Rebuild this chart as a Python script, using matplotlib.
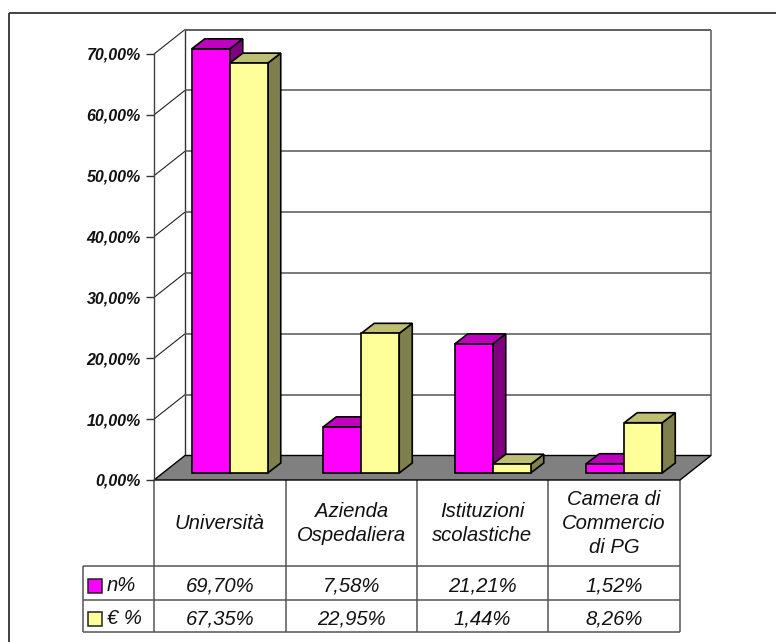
import matplotlib
matplotlib.use('Agg')
from matplotlib import pyplot as plt
from matplotlib.patches import Polygon, Rectangle
from matplotlib.lines import Line2D

W, H = 776, 642

categories = ['Università', 'Azienda\nOspedaliera', 'Istituzioni\nscolastiche', 'Camera di\nCommercio\ndi PG']
series_names = ['n%', '€ %']
n_pct = [69.70, 7.58, 21.21, 1.52]
eur_pct = [67.35, 22.95, 1.44, 8.26]
n_labels = ['69,70%', '7,58%', '21,21%', '1,52%']
eur_labels = ['67,35%', '22,95%', '1,44%', '8,26%']
y_ticks = [0, 10, 20, 30, 40, 50, 60, 70]
y_tick_labels = ['0,00%', '10,00%', '20,00%', '30,00%', '40,00%', '50,00%', '60,00%', '70,00%']

MAGENTA = ('#ff00ff', '#bf00bf', '#800080')
YELLOW = ('#ffff99', '#bfbf73', '#80804d')

plt.rcParams['font.family'] = ['Liberation Sans', 'DejaVu Sans']

fig = plt.figure(figsize=(W / 100, H / 100), dpi=100, facecolor='white')

# overlay in pixel coordinates for the frame and table grid
pix = fig.add_axes([0, 0, 1, 1], zorder=0)
pix.set_xlim(0, W)
pix.set_ylim(H, 0)
pix.axis('off')

LEFT, RIGHT, BASE, TOP = 154, 680, 480, 54
ax = fig.add_axes([LEFT / W, 1 - BASE / H, (RIGHT - LEFT) / W, (BASE - TOP) / H], zorder=1)
ax.set_xlim(0, 4)
ax.set_ylim(0, 70)
ax.patch.set_alpha(0)
for s in ['top', 'right', 'bottom']:
    ax.spines[s].set_visible(False)
ax.spines['left'].set_color('#404040')
ax.spines['left'].set_linewidth(1)
ax.set_xticks([])
ax.set_yticks(y_ticks)
ax.set_yticklabels(y_tick_labels, fontsize=11.5, fontweight='bold', fontstyle='italic', color='#111111')
ax.tick_params(axis='y', length=6, width=1, color='#333333', pad=3.5)

# pixel sizes converted to data units
px_x = 4 / (RIGHT - LEFT)
px_y = 70 / (BASE - TOP)
back_dx, back_dy = 31 * px_x, 24.5 * px_y
bar_dx, bar_dy = 13 * px_x, 10 * px_y
plane_dy = 7 * px_y
bar_w = 38 * px_x
group_off = 10 * px_x


def add_line(xs, ys, color='#555555', lw=1.0, z=1):
    ax.add_line(Line2D(xs, ys, color=color, lw=lw, zorder=z, clip_on=False, solid_capstyle='butt'))


def draw_bar(x0, value, colors, z):
    x1 = x0 + bar_w
    y0 = plane_dy
    y1 = y0 + value
    style = dict(edgecolor='black', lw=1.2, zorder=z, clip_on=False, joinstyle='miter')
    ax.add_patch(Polygon([(x1, y0), (x1 + bar_dx, y0 + bar_dy), (x1 + bar_dx, y1 + bar_dy), (x1, y1)],
                         facecolor=colors[2], **style))
    ax.add_patch(Polygon([(x0, y1), (x0 + bar_dx, y1 + bar_dy), (x1 + bar_dx, y1 + bar_dy), (x1, y1)],
                         facecolor=colors[1], **style))
    ax.add_patch(Polygon([(x0, y0), (x1, y0), (x1, y1), (x0, y1)], facecolor=colors[0], **style))


# back wall and side wall
add_line([back_dx, back_dx], [back_dy, 70 + back_dy], color='#333333')
add_line([back_dx, 4 + back_dx], [70 + back_dy, 70 + back_dy], color='#444444', lw=1.2)
add_line([4 + back_dx, 4 + back_dx], [back_dy, 70 + back_dy], color='#666666', lw=1.2)
for t in y_ticks[1:]:
    add_line([0, back_dx], [t, t + back_dy], color='#222222', lw=0.8)
    if t < 70:
        add_line([back_dx, 4 + back_dx], [t + back_dy, t + back_dy], color='#555555', lw=1.1)

# floor
ax.add_patch(Polygon([(0, 0), (back_dx, back_dy), (4 + back_dx, back_dy), (4, 0)],
                     facecolor='#808080', edgecolor='black', lw=1.0, zorder=2, clip_on=False))

for i in range(len(categories)):
    x0 = i + 0.5 + group_off - bar_w
    draw_bar(x0, n_pct[i], MAGENTA, 3 + i)
    draw_bar(x0 + bar_w, eur_pct[i], YELLOW, 3.5 + i)

# outer frame, only the top and left edges fall inside the picture
frame = dict(color='#333333', lw=1.3, solid_capstyle='butt')
pix.add_line(Line2D([9, W], [13, 13], **frame))
pix.add_line(Line2D([9, 9], [13, H], **frame))

# data table
col_x = [154, 285.5, 417, 548, 680]
row_y = [480, 565.5, 599.5, 632]
leg_x = 83
grid = dict(color='#555555', lw=1.1, solid_capstyle='butt')
for x in col_x:
    pix.add_line(Line2D([x, x], [row_y[0], row_y[-1]], **grid))
pix.add_line(Line2D([leg_x, leg_x], [row_y[1], row_y[-1]], **grid))
for y in row_y[1:]:
    pix.add_line(Line2D([leg_x, col_x[-1]], [y, y], **grid))

text_style = dict(ha='center', va='center', fontsize=14.6, fontstyle='italic', color='#111111', linespacing=1.32)
for i, c in enumerate(categories):
    cx = (col_x[i] + col_x[i + 1]) / 2
    pix.text(cx, (row_y[0] + row_y[1]) / 2 + 1, c, **text_style)
    pix.text(cx, (row_y[1] + row_y[2]) / 2 + 3, n_labels[i], **text_style)
    pix.text(cx, (row_y[2] + row_y[3]) / 2 + 3, eur_labels[i], **text_style)

# legend keys inside the table
for name, colors, y0, y1 in [(series_names[0], MAGENTA, row_y[1], row_y[2]),
                             (series_names[1], YELLOW, row_y[2], row_y[3])]:
    cy = (y0 + y1) / 2 + 3
    pix.add_patch(Rectangle((88, cy - 7), 14, 14, facecolor=colors[0], edgecolor='#222222', lw=1.1))
    pix.text(107, cy, name, ha='left', va='center', fontsize=14.6, fontstyle='italic', color='#111111')

fig.savefig('out.png', dpi=100)
